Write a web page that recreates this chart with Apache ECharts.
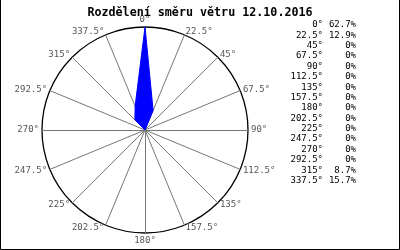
<!DOCTYPE html>
<html><head><meta charset="utf-8">
<script src="https://cdn.jsdelivr.net/npm/echarts@6/dist/echarts.min.js"></script>
<style>html,body{margin:0;padding:0;background:#fff}#c{width:400px;height:250px}</style>
</head><body><div id="c"></div>
<script>
const chartTitle = 'Rozdělení směru větru 12.10.2016';
const directions = ['0°','22.5°','45°','67.5°','90°','112.5°','135°','157.5°','180°','202.5°','225°','247.5°','270°','292.5°','315°','337.5°'];
const values = [62.7, 12.9, 0, 0, 0, 0, 0, 0, 0, 0, 0, 0, 0, 0, 8.7, 15.7];
const valueLabels = ['62.7%','12.9%','0%','0%','0%','0%','0%','0%','0%','0%','0%','0%','0%','0%','8.7%','15.7%'];
const maxValue = 62.7;

const mono = '"DejaVu Sans Mono", "Liberation Mono", monospace';
// radar goes counter-clockwise; reorder to clockwise compass order
const order = [0].concat(directions.map((d, i) => i).slice(1).reverse());
const indicator = order.map(i => ({ name: directions[i], max: maxValue, min: 0 }));
const radarData = order.map(i => values[i]);

const graphics = [
  { type: 'rect', silent: true, shape: { x: 0.5, y: -2, width: 399, height: 251.5 },
    style: { fill: 'none', stroke: '#000', lineWidth: 1 } }
];
directions.forEach((d, i) => {
  const y = 25 + i * 10.37;
  graphics.push({ type: 'text', x: 323, y: y, style: { text: d, font: '9px ' + mono, fill: '#000', align: 'right', verticalAlign: 'middle' } });
  graphics.push({ type: 'text', x: 356, y: y, style: { text: valueLabels[i], font: '9px ' + mono, fill: '#000', align: 'right', verticalAlign: 'middle' } });
});

const chart = echarts.init(document.getElementById('c'), null, { renderer: 'canvas' });
chart.setOption({
  animation: false,
  backgroundColor: '#fff',
  title: {
    text: chartTitle, left: 'center', top: 2,
    textStyle: { fontFamily: mono, fontSize: 11.7, fontWeight: 'bold', color: '#000' }
  },
  radar: {
    center: [145, 130], radius: 103, startAngle: 90, shape: 'circle', splitNumber: 1,
    nameGap: 3,
    axisName: { color: '#555', fontFamily: mono, fontSize: 9 },
    axisLine: { lineStyle: { color: '#777', width: 1 } },
    splitLine: { lineStyle: { color: '#000', width: 1.3 } },
    splitArea: { show: false },
    indicator: indicator
  },
  series: [{
    type: 'radar',
    symbol: 'none',
    lineStyle: { color: '#0000ff', width: 1 },
    areaStyle: { color: '#0000ff', opacity: 1 },
    data: [{ value: radarData }]
  }],
  graphic: graphics
});
</script></body></html>
